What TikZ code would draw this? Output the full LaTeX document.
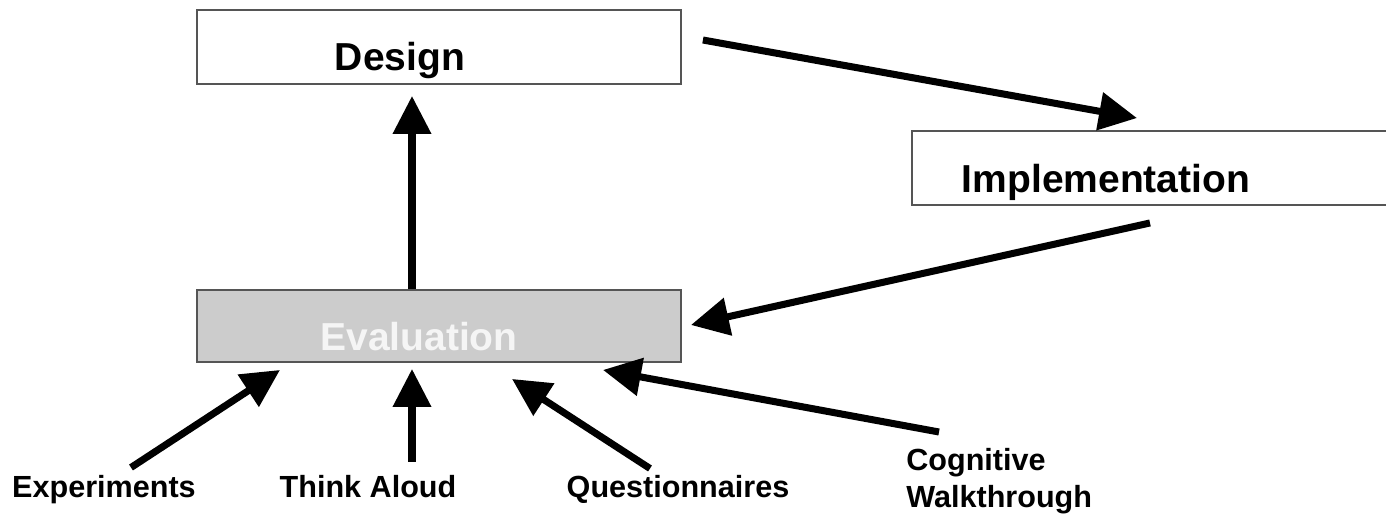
\documentclass[tikz,border=0pt]{standalone}
\usepackage{fontspec}
\setmainfont{Liberation Sans}
\usetikzlibrary{arrows.meta}
\definecolor{evalgray}{HTML}{CCCCCC}
\definecolor{boxline}{HTML}{555555}
\begin{document}
\begin{tikzpicture}[x=0.02cm,y=-0.02cm,
  box/.style={draw=boxline, line width=1.1pt, minimum width=9.68cm, minimum height=1.48cm, inner sep=0pt},
  title/.style={font=\fontsize{22.2}{26}\selectfont\bfseries, inner sep=0pt},
  method/.style={font=\fontsize{17.4}{21}\selectfont\bfseries, inner sep=0pt, align=left},
  arr/.style={line width=4pt, -{Triangle[length=0.76cm,width=0.74cm]}}]
\useasboundingbox (0,0) rectangle (1386,514);
\node[box] (design) at (439,47) {};
\node[box] (impl) at (1154,168) {};
\node[box, fill=evalgray, minimum height=1.44cm] (eval) at (439,326) {};
\node[title, anchor=base] (designtxt) at (400,70) {Design};
\node[title, anchor=base] (impltxt) at (1106,192) {Implementation};
\node[title, anchor=base, text=white!96!black] (evaltxt) at (419,350) {Evaluation};
\node[method, anchor=base] (exp) at (104,497) {Experiments};
\node[method, anchor=base] (think) at (368,497) {Think Aloud};
\node[method, anchor=base] (quest) at (678,497) {Questionnaires};
\node[method, anchor=north west] (cog) at (906,448) {Cognitive\\Walkthrough};
\path[draw,arr] ([shift={(-27,0)}]eval.north) -- ([shift={(-27,11)}]design.south);
\path[draw,arr] ([shift={(21,-7)}]design.east) -- ([shift={(-17,-12)}]impl.north);
\path[draw,arr] ([shift={(-4,17)}]impl.south) -- ([shift={(9,-1)}]eval.east);
\path[draw,arr] ([shift={(27,-7)}]exp.north) -- ([shift={(-159,7)}]eval.south);
\path[draw,arr] ([shift={(44,-13)}]think.north) -- ([shift={(-27,6)}]eval.south);
\path[draw,arr] ([shift={(-28,-6)}]quest.north) -- ([shift={(73,16)}]eval.south);
\path[draw,arr] ([shift={(33,-16)}]cog.north west) -- ([shift={(164,7)}]eval.south);
\end{tikzpicture}
\end{document}
